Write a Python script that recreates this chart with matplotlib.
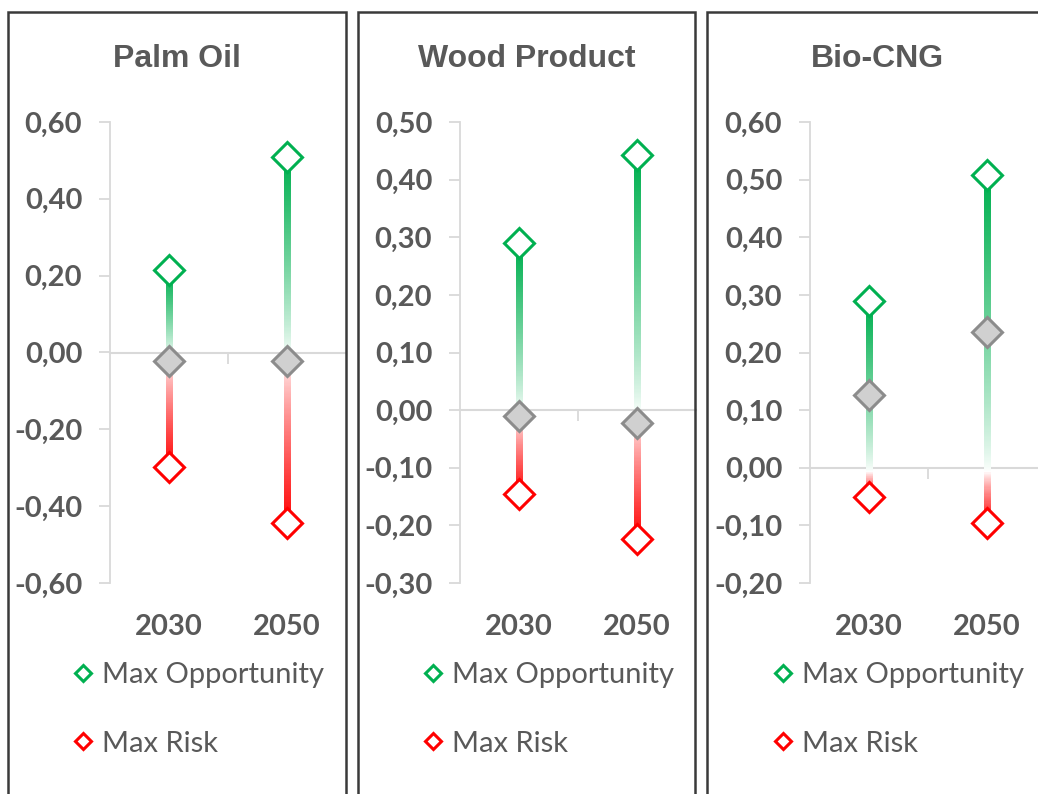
import numpy as np
import matplotlib
matplotlib.use("Agg")
import matplotlib.pyplot as plt
from matplotlib.collections import LineCollection
from matplotlib.patches import Rectangle
from matplotlib.ticker import FuncFormatter
from matplotlib.colors import to_rgb

# data
titles = ["Palm Oil", "Wood Product", "Bio-CNG"]
years = ["2030", "2050"]
max_opp = [[0.215, 0.51], [0.29, 0.443], [0.289, 0.508]]
max_risk = [[-0.297, -0.443], [-0.146, -0.224], [-0.051, -0.096]]
mid_val = [[-0.021, -0.021], [-0.011, -0.023], [0.126, 0.236]]
y_lims = [(-0.6, 0.6), (-0.3, 0.5), (-0.2, 0.6)]
y_steps = [0.2, 0.1, 0.1]

GREEN = "#00B050"
RED = "#FF0000"
GREY_TXT = "#595959"
AX_GREY = "#D9D9D9"

W, H = 1038, 794
fig = plt.figure(figsize=(W / 100, H / 100), dpi=100)

# panel frames (pixels: left, right)
frames = [(8, 346), (358, 695), (707, 1060)]
title_x = [177, 527, 877]
ax_left = [110, 460, 810]
ax_w = 236
top_px, bot_px = 122, 583


def grad_line(ax, x, y0, y1, n=300):
    ys = np.linspace(y0, y1, n)
    segs = [[(x, ys[i]), (x, ys[i + 1])] for i in range(n - 1)]
    ym = (ys[:-1] + ys[1:]) / 2
    white = np.array([1.0, 1.0, 1.0])
    g = np.array(to_rgb(GREEN))
    r = np.array(to_rgb(RED))
    cols = []
    for v in ym:
        if v >= 0:
            f = min(v / y1, 1) if y1 > 0 else 0
            c = white * (1 - f ** 0.8) + g * f ** 0.8
        else:
            f = min(v / y0, 1) if y0 < 0 else 0
            c = white * (1 - f ** 0.8) + r * f ** 0.8
        cols.append(c)
    lc = LineCollection(segs, colors=cols, linewidths=4.8, zorder=2,
                        capstyle="projecting", antialiaseds=False)
    ax.add_collection(lc)


fmt = FuncFormatter(lambda v, p: f"{v:.2f}".replace(".", ",").replace("-0,00", "0,00"))

for i, t in enumerate(titles):
    l, r = frames[i]
    fig.add_artist(Rectangle((l / W, -0.05), (r - l) / W, 1 - 12 / H + 0.05,
                             transform=fig.transFigure, fill=False,
                             edgecolor="#3a3a3a", linewidth=1.8, clip_on=False))
    ax = fig.add_axes([ax_left[i] / W, 1 - bot_px / H, ax_w / W,
                       (bot_px - top_px) / H])
    ax.set_xlim(-0.5, 1.5)
    lo, hi = y_lims[i]
    ax.set_ylim(lo, hi)
    ax.set_yticks(np.arange(lo, hi + 1e-9, y_steps[i]))
    ax.yaxis.set_major_formatter(fmt)
    for s in ["top", "right", "bottom"]:
        ax.spines[s].set_visible(False)
    ax.spines["left"].set_color(AX_GREY)
    ax.spines["left"].set_linewidth(1.3)
    ax.tick_params(axis="y", length=8, width=1.3, color=AX_GREY, pad=12,
                   labelsize=21, labelcolor=GREY_TXT)
    for lb in ax.get_yticklabels():
        lb.set_fontweight("bold")
        lb.set_family("Lato")
    ax.set_xticks([0, 1])
    ax.set_xticklabels(years, fontsize=21, fontweight="bold", color=GREY_TXT,
                       family="Lato")
    ax.tick_params(axis="x", length=0, pad=22)
    ax.axhline(0, color=AX_GREY, linewidth=1.5, zorder=1, clip_on=False)
    ax.plot([0.5], [0], marker=3, markersize=8, color=AX_GREY, mew=1.3,
            zorder=1)

    xs = np.arange(len(years))
    for j in xs:
        grad_line(ax, j, max_risk[i][j], max_opp[i][j])
    ax.plot(xs, max_opp[i], linestyle="none", marker="D", markersize=15,
            mfc="white", mec=GREEN, mew=2.2, zorder=4, label="Max Opportunity",
            clip_on=False)
    ax.plot(xs, max_risk[i], linestyle="none", marker="D", markersize=15,
            mfc="white", mec=RED, mew=2.2, zorder=4, label="Max Risk",
            clip_on=False)
    ax.plot(xs, mid_val[i], linestyle="none", marker="D", markersize=15,
            mfc="#D0D0D0", mec="#8C8C8C", mew=2.2, zorder=4, clip_on=False)

    fig.text(title_x[i] / W, 1 - 59 / H, t, fontsize=23, fontweight="bold",
             color=GREY_TXT, family="Liberation Sans", ha="center",
             va="center")

    leg = ax.legend(loc="upper left",
                    bbox_to_anchor=((ax_left[i] - 62) / W, 1 - 636 / H),
                    bbox_transform=fig.transFigure,
                    frameon=False, prop={"family": "Lato", "size": 21},
                    labelspacing=1.45, handlelength=0.6, handletextpad=0.35,
                    markerscale=0.52)
    for tx in leg.get_texts():
        tx.set_color(GREY_TXT)

fig.savefig("out.png", dpi=100)
